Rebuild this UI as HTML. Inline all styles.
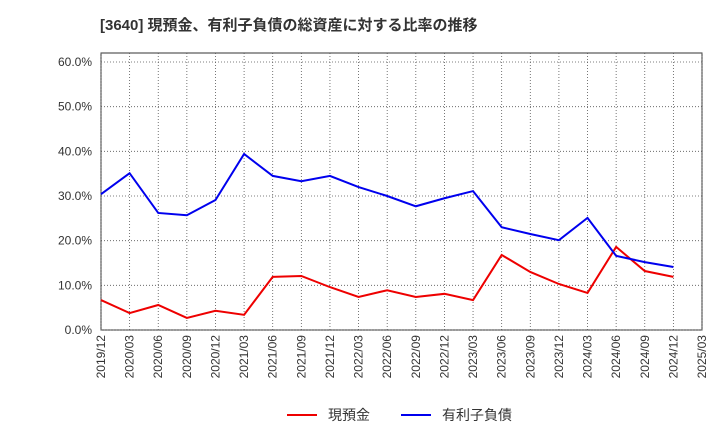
<!DOCTYPE html>
<html><head><meta charset="utf-8"><style>
body{margin:0;background:#fff;}
svg text{font-family:"Liberation Sans","Noto Sans CJK JP",sans-serif;}
</style></head><body>
<svg id="chart" width="720" height="440">
<text x="100" y="30" font-size="15" font-weight="bold" fill="#333">[3640]  現預金、有利子負債の総資産に対する比率の推移</text>
<rect x="101" y="53" width="601" height="277" fill="none" stroke="#333" stroke-width="1"/>
<g id="grid"></g><g id="axes"></g><g id="series"></g>
<g>
<line x1="287" y1="415" x2="317" y2="415" stroke="#e00" stroke-width="2"/>
<text x="328" y="420" font-size="14" fill="#333">現預金</text>
<line x1="401" y1="415" x2="431" y2="415" stroke="#00e" stroke-width="2"/>
<text x="442" y="420" font-size="14" fill="#333">有利子負債</text>
</g>
</svg>
<script>
const categories=["2019/12","2020/03","2020/06","2020/09","2020/12","2021/03","2021/06","2021/09","2021/12","2022/03","2022/06","2022/09","2022/12","2023/03","2023/06","2023/09","2023/12","2024/03","2024/06","2024/09","2024/12","2025/03"];
const cashValues=[6.7,3.8,5.6,2.7,4.3,3.4,11.9,12.1,9.6,7.4,8.9,7.4,8.1,6.7,16.8,13.0,10.3,8.3,18.6,13.2,11.9];
const debtValues=[30.4,35.1,26.2,25.7,29.1,39.4,34.5,33.3,34.5,32.0,30.0,27.7,29.5,31.1,23.0,21.5,20.1,25.1,16.6,15.2,14.1];
const yTicks=[0,10,20,30,40,50,60];
const yTickLabels=["0.0%","10.0%","20.0%","30.0%","40.0%","50.0%","60.0%"];
const NS="http://www.w3.org/2000/svg";
const x0=101,x1=702,yBase=330,yTop=53;
const xScale=i=>x0+i*(x1-x0)/(categories.length-1);
const yScale=v=>yBase-v*(330-62)/60;
function mk(tag,attrs,parent){const e=document.createElementNS(NS,tag);for(const k in attrs)e.setAttribute(k,attrs[k]);parent.appendChild(e);return e;}
const grid=document.getElementById('grid'),axes=document.getElementById('axes'),series=document.getElementById('series');
yTicks.forEach((v,i)=>{const y=yScale(v);
 const l=mk('line',{x1:x0,x2:x1,y1:y,y2:y,stroke:'#555','stroke-width':0.8,'stroke-dasharray':'1,2'},grid);
 
 
 const t=mk('text',{x:92,y:y+4,'font-size':12,fill:'#333','text-anchor':'end'},axes);t.textContent=yTickLabels[i];
 
 
});
categories.forEach((c,i)=>{const x=xScale(i);
 const l=mk('line',{x1:x,x2:x,y1:yTop,y2:yBase,stroke:'#555','stroke-width':0.8,'stroke-dasharray':'1,2'},grid);
 
 
 const t=mk('text',{x:x+4,y:335,'font-size':12,fill:'#333','text-anchor':'end',transform:`rotate(-90 ${x+4} 335)`},axes);t.textContent=c;
 
 
});
function line(vals,color,name){const p=mk('polyline',{points:vals.map((v,i)=>xScale(i)+','+yScale(v)).join(' '),fill:'none',stroke:color,'stroke-width':2},series);
 
 }
line(cashValues,'#e00','cash-line');
line(debtValues,'#00e','debt-line');
</script>
</body></html>
